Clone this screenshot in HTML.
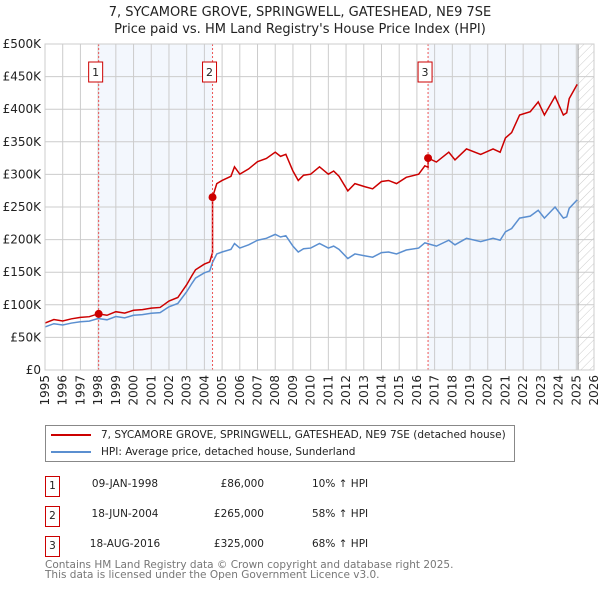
<!DOCTYPE html>
<html><head><meta charset="utf-8">
<style>
body{margin:0;background:#fff;font-family:"DejaVu Sans","Liberation Sans",sans-serif;}
#wrap{position:relative;width:600px;height:590px;overflow:hidden;}
svg text{font-family:"DejaVu Sans","Liberation Sans",sans-serif;}
</style></head>
<body><div id="wrap">
<svg id="chart" width="600" height="590">
<defs><pattern id="hatch" width="6" height="6" patternUnits="userSpaceOnUse" patternTransform="rotate(45)"><line x1="0" y1="0" x2="0" y2="6" stroke="#ccc" stroke-width="1"/></pattern></defs>
<text x="300" y="16" text-anchor="middle" font-size="13" fill="#222">7, SYCAMORE GROVE, SPRINGWELL, GATESHEAD, NE9 7SE</text>
<text x="300" y="33" text-anchor="middle" font-size="13" fill="#222">Price paid vs. HM Land Registry's House Price Index (HPI)</text>
<g id="plot"></g>
</svg>
<div style="position:absolute;left:45px;top:425px;width:468px;height:35px;border:1px solid #888;font-size:10.5px;color:#222;">
 <div style="position:absolute;left:5px;top:3px;white-space:nowrap;"><span style="display:inline-block;width:40px;height:2px;background:#cc0000;vertical-align:middle;margin-right:10px;"></span>7, SYCAMORE GROVE, SPRINGWELL, GATESHEAD, NE9 7SE (detached house)</div>
 <div style="position:absolute;left:5px;top:20px;white-space:nowrap;"><span style="display:inline-block;width:40px;height:2px;background:#5b8fd0;vertical-align:middle;margin-right:10px;"></span>HPI: Average price, detached house, Sunderland</div>
</div>
<div id="tbl" style="position:absolute;left:0;top:0;font-size:10.5px;color:#222;"></div>
<div style="position:absolute;left:45px;top:560px;font-size:10.5px;line-height:10px;color:#777;white-space:nowrap;">Contains HM Land Registry data © Crown copyright and database right 2025.<br>This data is licensed under the Open Government Licence v3.0.</div>
</div>
<script>
const hpiYears=[1995,1995.5,1996,1996.5,1997,1997.5,1998,1998.5,1999,1999.5,2000,2000.5,2001,2001.5,2002,2002.5,2003,2003.3,2003.5,2004,2004.3,2004.46,2004.7,2005,2005.5,2005.7,2006,2006.5,2007,2007.5,2008,2008.3,2008.6,2009,2009.3,2009.6,2010,2010.5,2011,2011.3,2011.6,2012.1,2012.5,2013.07,2013.5,2014,2014.4,2014.85,2015.4,2016.1,2016.45,2017.1,2017.8,2018.15,2018.8,2019.6,2020.3,2020.7,2021,2021.35,2021.8,2022.4,2022.85,2023.2,2023.8,2024.27,2024.46,2024.6,2025.05];
const hpiValues=[66,71,69,72,74,75,79,77,82,80,84,85,87,88,97,102,120,133,141,149,152,165,178,181,185,194,187,192,199,202,208,204,206,190,181,186,187,194,187,190,185,171,178,175,173,180,181,178,184,187,195,190,199,192,202,197,202,199,212,217,233,236,245,233,250,233,235,248,261];
const saleDates=[1998.03,2004.46,2016.63];
const salePrices=[86,265,325];
const saleLabels=["1","2","3"];
const saleDateText=["09-JAN-1998","18-JUN-2004","18-AUG-2016"];
const salePriceText=["£86,000","£265,000","£325,000"];
const saleHpiText=["10% ↑ HPI","58% ↑ HPI","68% ↑ HPI"];
const yTicks=[0,50,100,150,200,250,300,350,400,450,500];
const yTickLabels=["£0","£50K","£100K","£150K","£200K","£250K","£300K","£350K","£400K","£450K","£500K"];
const xTicks=[1995,1996,1997,1998,1999,2000,2001,2002,2003,2004,2005,2006,2007,2008,2009,2010,2011,2012,2013,2014,2015,2016,2017,2018,2019,2020,2021,2022,2023,2024,2025,2026];

const L=45,R=594,T=44,B=370,X0=1995,X1=2026,YMAX=500;
const xs=v=>L+(v-X0)/(X1-X0)*(R-L);
const ys=v=>B-v/YMAX*(B-T);
const NS="http://www.w3.org/2000/svg";
const g=document.getElementById('plot');
function mk(tag,attrs,parent){const e=document.createElementNS(NS,tag);for(const k in attrs)e.setAttribute(k,attrs[k]);(parent||g).appendChild(e);return e;}
function hpiAt(t){for(let i=1;i<hpiYears.length;i++){if(t<=hpiYears[i]){const a=hpiYears[i-1],b=hpiYears[i];return hpiValues[i-1]+(hpiValues[i]-hpiValues[i-1])*(t-a)/(b-a);}}return hpiValues[hpiValues.length-1];}

let sh=mk('rect',{x:xs(saleDates[0]),y:T,width:xs(saleDates[1])-xs(saleDates[0]),height:B-T,fill:'#eef3fc',opacity:0.7});

let sh2=mk('rect',{x:xs(saleDates[2]),y:T,width:xs(2025.1)-xs(saleDates[2]),height:B-T,fill:'#eef3fc',opacity:0.7});

let ht=mk('rect',{x:xs(2025.1),y:T,width:R-xs(2025.1),height:B-T,fill:'url(#hatch)'});


xTicks.forEach(t=>{const l=mk('line',{x1:xs(t),x2:xs(t),y1:T,y2:B,stroke:'#ccc','stroke-width':1});

const tx=mk('text',{x:0,y:0,'font-size':12,fill:'#222','text-anchor':'end',transform:`translate(${xs(t)+4},${B+5}) rotate(-90)`});tx.textContent=t;
});
yTicks.forEach((t,i)=>{const l=mk('line',{x1:L,x2:R,y1:ys(t),y2:ys(t),stroke:'#ccc','stroke-width':1});

const tx=mk('text',{x:L-4,y:ys(t)+4,'font-size':12,fill:'#222','text-anchor':'end'});tx.textContent=yTickLabels[i];
});
let vl=mk('line',{x1:xs(2025.1),x2:xs(2025.1),y1:T,y2:B,stroke:'#999','stroke-width':1});


let hp=mk('polyline',{points:hpiYears.map((t,i)=>xs(t)+','+ys(hpiValues[i])).join(' '),fill:'none',stroke:'#5b8fd0','stroke-width':1.5});

const factors=saleDates.map((d,i)=>salePrices[i]/hpiAt(d));
function factorAt(t){let f=factors[0];saleDates.forEach((d,i)=>{if(t>=d)f=factors[i];});return f;}
const pts=[];
const allT=hpiYears.slice();
saleDates.forEach(d=>allT.push(d));
allT.sort((a,b)=>a-b);
allT.forEach(t=>{const si=saleDates.indexOf(t);
 if(si>0){pts.push([t,hpiAt(t)*factors[si-1]]);pts.push([t,salePrices[si]]);}
 else if(si===0){pts.push([t,salePrices[0]]);}
 else pts.push([t,hpiAt(t)*factorAt(t)]);});
let pl=mk('polyline',{points:pts.map(p=>xs(p[0])+','+ys(p[1])).join(' '),fill:'none',stroke:'#cc0000','stroke-width':1.5});


saleDates.forEach((d,i)=>{
 const l=mk('line',{x1:xs(d),x2:xs(d),y1:T,y2:B,stroke:'#e55','stroke-width':1,'stroke-dasharray':'2,2'});
 
 const c=mk('circle',{cx:xs(d),cy:ys(salePrices[i]),r:4,fill:'#cc0000'});
 
 const bx=mk('rect',{x:xs(d)-10,y:62,width:14,height:20,fill:'#fff',stroke:'#cc0000','stroke-width':1});
 
 const tx=mk('text',{x:xs(d)-3,y:76,'font-size':11,'text-anchor':'middle',fill:'#222'});tx.textContent=saleLabels[i];
 
});
let fr=mk('rect',{x:L,y:T,width:R-L,height:B-T,fill:'none',stroke:'#ccc','stroke-width':1});


const tbl=document.getElementById('tbl');
saleLabels.forEach((lab,i)=>{const top=476+i*30;
 const row=document.createElement('div');
 
 
 row.innerHTML=`<div style="position:absolute;left:45px;top:${top}px;width:13px;height:19px;border:1px solid #cc0000;text-align:center;line-height:19px;font-size:10.5px;">${lab}</div>
 <div style="position:absolute;left:70px;width:110px;top:${top+2}px;text-align:center;">${saleDateText[i]}</div>
 <div style="position:absolute;left:164px;width:100px;top:${top+2}px;text-align:right;">${salePriceText[i]}</div>
 <div style="position:absolute;left:312px;top:${top+2}px;white-space:nowrap;">${saleHpiText[i]}</div>`;
 tbl.appendChild(row);});
</script>
</body></html>
